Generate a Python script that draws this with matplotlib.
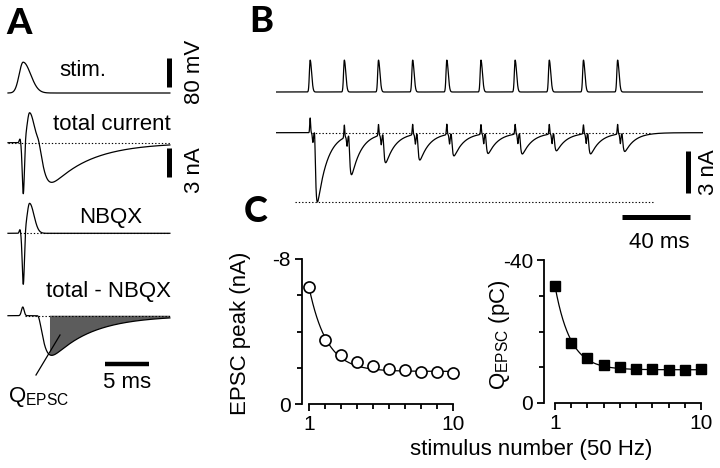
import numpy as np
import matplotlib
matplotlib.use("Agg")
import matplotlib.pyplot as plt

plt.rcParams['font.family'] = ['Liberation Sans', 'DejaVu Sans']
plt.rcParams['mathtext.default'] = 'regular'

# ---------------- data ----------------
# Panel A: single stimulus, times in ms
a_end_ms = 18.4
a_stim_peak_ms = 1.72
a_stim_amp_mV = 85.0
a_stim_sd_ms = (0.45, 0.85)           # rise / fall widths
a_blip_ms, a_blip_nA = 1.36, 0.4
a_spike_ms, a_spike_nA = 1.74, -5.4
a_kcur_ms, a_kcur_nA = 2.45, 3.1
a_kcur_sd_ms = (0.28, 0.5)
a_resid_ms, a_resid_nA = 1.68, 0.9
a_epsc_onset_ms, a_epsc_peak_nA = 3.3, -4.1
a_epsc_tau_ms = (0.5, 4.5)            # rise / decay
a_qepsc_from_ms = 4.77

# Panel B: 50 Hz train
b_end_ms = 250.0
b_stim_ms = [20, 40, 60, 80, 100, 120, 140, 160, 180, 200]
b_stim_amp_mV = 88.0
b_epsc_peak_nA = [-4.95, -2.83, -2.04, -1.88, -1.59, -1.43, -1.47, -1.24, -1.47, -1.29]
b_epsc_delay_ms = 2.45
b_epsc_tau_ms = (0.5, 5.8)
b_art_up_nA = [1.05, 0.9, 0.8, 0.75, 0.75, 0.7, 0.7, 0.7, 0.65, 0.7]
b_art_down_nA = -0.7
b_art_down_delay_ms = 1.6

# Panel C
stim_number = [1, 2, 3, 4, 5, 6, 7, 8, 9, 10]
epsc_peak_nA = [-6.45, -3.53, -2.70, -2.32, -2.10, -1.93, -1.88, -1.77, -1.77, -1.71]
q_epsc_pC = [-32.7, -16.8, -12.6, -10.6, -10.1, -9.5, -9.5, -9.2, -9.3, -9.4]
fit_peak = dict(offset=-1.8, amp=-4.65, tau=1.1)
fit_q = dict(offset=-9.3, amp=-23.4, tau=0.95)

# ---------------- helpers ----------------
W, H = 720, 468
fig = plt.figure(figsize=(7.2, 4.68), dpi=100)


def rect(x0, y0, x1, y1):
    return [x0 / W, 1 - y1 / H, (x1 - x0) / W, (y1 - y0) / H]


def ftext(x, y, s, **kw):
    kw.setdefault('fontsize', 16)
    kw.setdefault('ha', 'center')
    kw.setdefault('va', 'center')
    fig.text(x / W, 1 - y / H, s, **kw)


def pulse(t, t0, amp, sd):
    s = np.where(t < t0, sd[0], sd[1])
    return amp * np.exp(-0.5 * ((t - t0) / s) ** 2)


def spike(t, t0, amp, sd):
    return amp * np.exp(-0.5 * ((t - t0) / sd) ** 2)


def epsc(t, onset, peak, tau):
    def kern(s):
        return (1 - np.exp(-s / tau[0])) ** 3 * np.exp(-s / tau[1])
    s = np.clip(t - onset, 0, None)
    ss = np.linspace(0, 10 * tau[1], 20001)
    return peak * kern(s) / kern(ss).max()


LW = 0.9
DOT = dict(color='k', lw=0.8, ls=(0, (1.2, 1.8)))
BAR = dict(color='k', solid_capstyle='butt', clip_on=False)
LETTER = dict(fontsize=26, fontweight='black', family=['Lato', 'Liberation Sans'])

# ---------------- Panel A ----------------
PXA, PYA = 8.8, 9.67           # px per ms, px per nA
mv2na = 3.0 / 80.0             # 80 mV bar == 3 nA bar
axA = fig.add_axes(rect(0, 40, 200, 420))
axA.set_xlim(-8 / PXA, 192 / PXA)
axA.set_ylim(0, 380 / PYA)
axA.axis('off')


def ya(px):
    return (420 - px) / PYA


def ta(px):
    return (px - 8) / PXA


t_a = np.arange(0, a_end_ms, 0.005)
stim_a = pulse(t_a, a_stim_peak_ms, a_stim_amp_mV, a_stim_sd_ms)
nbqx = (spike(t_a, a_blip_ms, a_blip_nA, 0.08)
        + spike(t_a, a_spike_ms, a_spike_nA, 0.12)
        + pulse(t_a, a_kcur_ms, a_kcur_nA, a_kcur_sd_ms))
epsc_a = epsc(t_a, a_epsc_onset_ms, a_epsc_peak_nA, a_epsc_tau_ms)
total = nbqx + epsc_a
diff = spike(t_a, a_resid_ms, a_resid_nA, 0.15) + epsc_a

b_stim, b_tot, b_nb, b_df = ya(93), ya(142.7), ya(233.3), ya(315.7)
axA.plot(t_a, b_stim + stim_a * mv2na, 'k', lw=LW)
axA.plot([0, a_end_ms], [b_tot, b_tot], **DOT)
axA.plot(t_a, b_tot + total, 'k', lw=LW)
axA.plot([ta(20), a_end_ms], [b_nb, b_nb], **DOT)
axA.plot(t_a, b_nb + nbqx, 'k', lw=LW)
m = t_a >= a_qepsc_from_ms
axA.fill_between(t_a[m], b_df, b_df + diff[m], facecolor='0.36', lw=0)
axA.plot([ta(25), a_end_ms], [b_df, b_df], **DOT)
axA.plot(t_a, b_df + diff, 'k', lw=LW)

# scale bars A
axA.plot([ta(168.5)] * 2, [ya(87), ya(87) + 80 * mv2na], lw=3.6, **BAR)
axA.plot([ta(168.5)] * 2, [ya(177), ya(177) + 3], lw=3.6, **BAR)
axA.plot([ta(105), ta(105) + 5], [ya(364)] * 2, lw=3.2, **BAR)
axA.plot([ta(36), ta(60)], [ya(375), ya(335)], 'k', lw=LW)

ftext(19, 24, 'A', **LETTER)
ftext(83, 70, 'stim.')
ftext(112, 124, 'total current')
ftext(111, 217, 'NBQX')
ftext(108, 291, 'total - NBQX')
ftext(127, 383, '5 ms')
ftext(194, 72, '80 mV', rotation=90)
ftext(194, 170, '3 nA', rotation=90)
ftext(8, 397, r'Q$_{EPSC}$', ha='left')

# ---------------- Panel B ----------------
PXB = 427 / b_end_ms
PMV = 29 / 80.0
PYB = 14.0
axBs = fig.add_axes(rect(276, 40, 703, 100))
axBs.set_xlim(0, b_end_ms)
axBs.set_ylim(-(100 - 92) / PMV, (92 - 40) / PMV)
axBs.axis('off')
axBc = fig.add_axes(rect(276, 105, 703, 225))
axBc.set_xlim(0, b_end_ms)
axBc.set_ylim(-(225 - 132.7) / PYB, (132.7 - 105) / PYB)
axBc.axis('off')


def tb(px):
    return (px - 276) / PXB


def yb(px):
    return -(px - 132.7) / PYB


t_b = np.arange(0, b_end_ms, 0.02)
stim_b = np.zeros_like(t_b)
cur_b = np.zeros_like(t_b)
for ts, pk, up in zip(b_stim_ms, b_epsc_peak_nA, b_art_up_nA):
    stim_b += pulse(t_b, ts, b_stim_amp_mV, a_stim_sd_ms)
    cur_b += spike(t_b, ts, up, 0.25)
    cur_b += spike(t_b, ts + b_art_down_delay_ms, b_art_down_nA, 0.3)
    cur_b += epsc(t_b, ts + b_epsc_delay_ms, pk, b_epsc_tau_ms)

axBs.plot(t_b, stim_b, 'k', lw=LW)
axBc.plot([tb(312), tb(650)], [0, 0], **DOT)
axBc.plot([tb(295), tb(653)], [b_epsc_peak_nA[0]] * 2, **DOT)
axBc.plot(t_b, cur_b, 'k', lw=LW)

axBc.plot([tb(688)] * 2, [yb(193), yb(193) + 3], lw=3.6, **BAR)
axBc.plot([tb(690) - 40, tb(690)], [yb(217)] * 2, lw=3.6, **BAR)

ftext(261, 22, 'B', **LETTER)
ftext(708, 172, '3 nA', rotation=90)
ftext(659, 242, '40 ms')

# ---------------- Panel C ----------------
ftext(256, 211, 'C', **LETTER)


def style_c(ax, ymin, yminor, ylab):
    for s in ('top', 'right'):
        ax.spines[s].set_visible(False)
    for s in ('left', 'bottom'):
        ax.spines[s].set_linewidth(1.3)
    ax.spines['left'].set_bounds(ymin, 0)
    ax.spines['bottom'].set_bounds(1, 10)
    ax.set_yticks([ymin, 0])
    ax.set_yticklabels(ylab)
    ax.set_yticks(yminor, minor=True)
    ax.set_xticks([1, 10])
    ax.set_xticklabels(['1', '10'])
    ax.set_xticks(range(2, 10), minor=True)
    ax.tick_params(which='major', length=5, width=1.3, labelsize=15, pad=3)
    ax.tick_params(which='minor', length=3.5, width=1.3)
    ax.patch.set_visible(False)


n_fine = np.linspace(1, 10, 300)

axC1 = fig.add_axes(rect(302, 259, 458, 404))
axC1.set_xlim(1 - 7 / 16, 10 + 5 / 16)
axC1.set_ylim(0, -8)
style_c(axC1, -8, [-6, -4, -2], ['-8', '0'])
axC1.plot(n_fine, fit_peak['offset'] + fit_peak['amp'] * np.exp(-(n_fine - 1) / fit_peak['tau']),
          'k', lw=LW, clip_on=False)
axC1.plot(stim_number, epsc_peak_nA, 'o', ms=8, mfc='white', mec='k', mew=1.2, clip_on=False)

axC2 = fig.add_axes(rect(544, 260, 704, 403))
axC2.set_xlim(1 - 11 / 16.22, 10 + 3 / 16.22)
axC2.set_ylim(0, -40)
style_c(axC2, -40, [-30, -20, -10], ['-40', '0'])
axC2.plot(n_fine, fit_q['offset'] + fit_q['amp'] * np.exp(-(n_fine - 1) / fit_q['tau']),
          'k', lw=LW, clip_on=False)
axC2.plot(stim_number, q_epsc_pC, 's', ms=7, mfc='k', mec='k', clip_on=False)

ftext(241, 333, 'EPSC peak (nA)', rotation=90)
ftext(500, 335, r'Q$_{EPSC}$ (pC)', rotation=90)
ftext(531, 449, 'stimulus number (50 Hz)')

fig.savefig('out.png', dpi=100)
